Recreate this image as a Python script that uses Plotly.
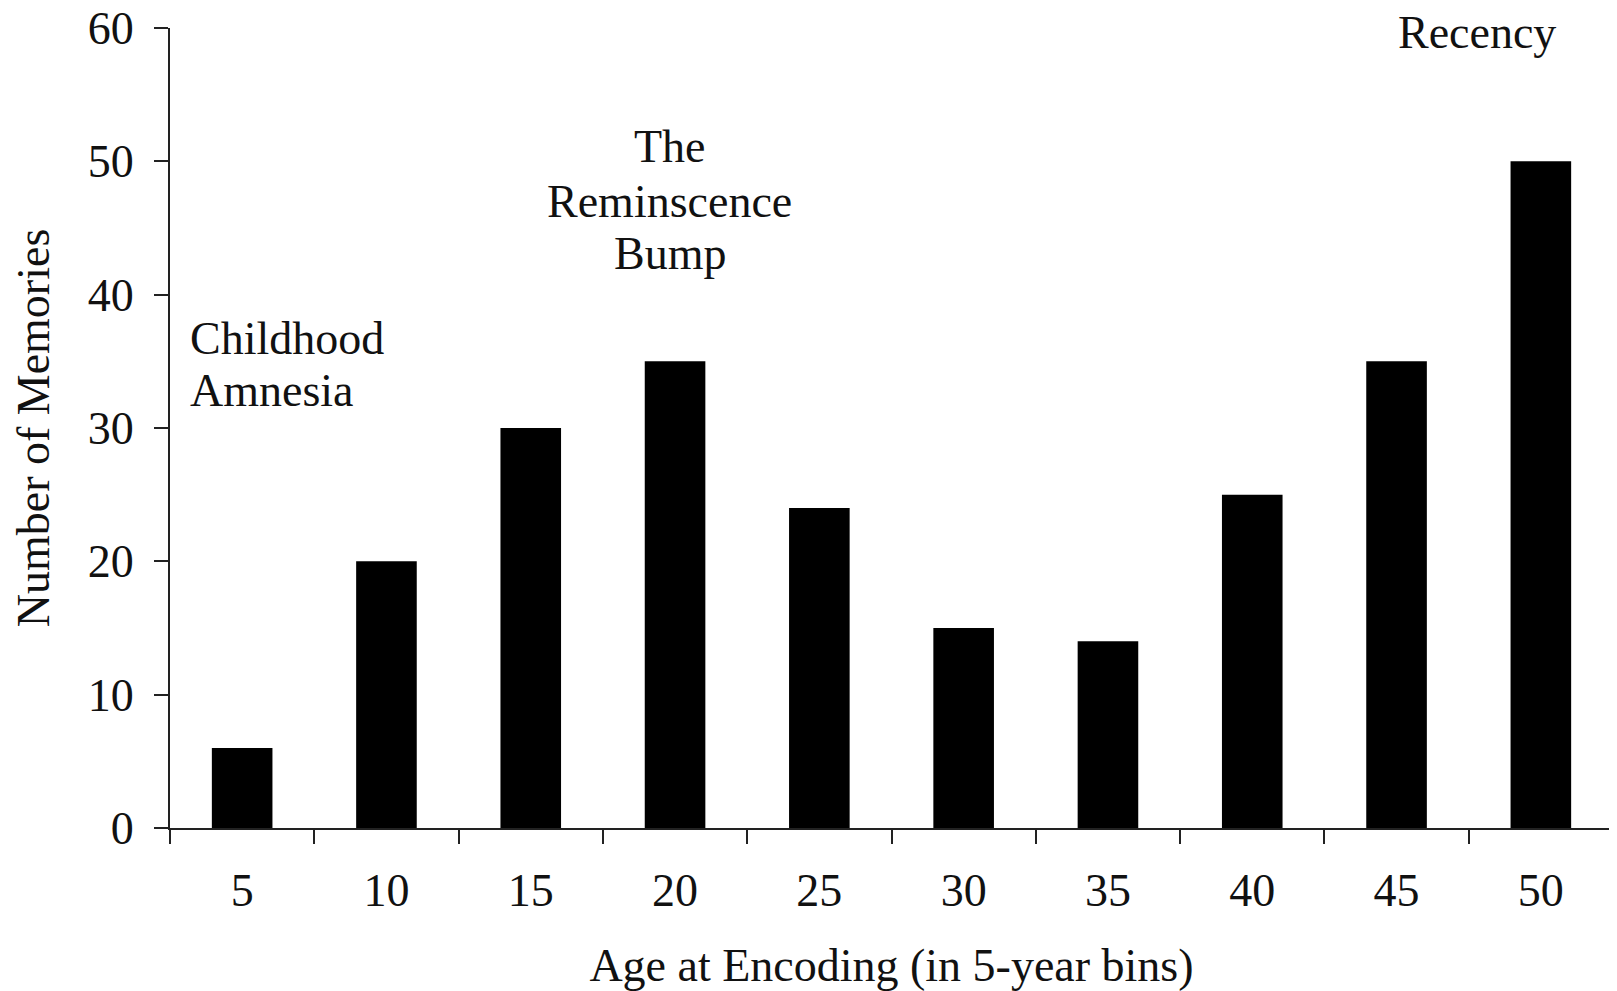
import plotly.graph_objects as go

ages = ["5", "10", "15", "20", "25", "30", "35", "40", "45", "50"]
memories = [6, 20, 30, 35, 24, 15, 14, 25, 35, 50]
y_ticks = [0, 10, 20, 30, 40, 50, 60]

FONT = "Liberation Serif, Times New Roman, serif"
COL = "#111111"
FS = 46

fig = go.Figure(go.Bar(x=ages, y=memories, marker=dict(color="black", line=dict(width=0))))

fig.update_layout(
    width=1617, height=991,
    margin=dict(l=162, r=12, t=20, b=171, autoexpand=False),
    paper_bgcolor="white", plot_bgcolor="white",
    bargap=0.58, showlegend=False,
    font=dict(family=FONT, size=FS, color=COL),
)
fig.update_xaxes(
    type="category", tickson="boundaries", ticks="outside", ticklen=14, tickwidth=2,
    tickcolor="#222", showline=True, linecolor="#222", linewidth=2, showgrid=False,
    tickfont=dict(size=FS), ticklabelstandoff=21, automargin=False,
    title=dict(text="Age at Encoding (in 5-year bins)", font=dict(size=FS), standoff=34),
)
fig.update_yaxes(
    range=[0, 60], tickvals=y_ticks, ticks="outside", ticklen=14, tickwidth=2,
    tickcolor="#222", showline=True, linecolor="#222", linewidth=2, showgrid=False,
    zeroline=False, tickfont=dict(size=FS), ticklabelstandoff=11, automargin=False,
    ticklabeloverflow="allow",
    title=dict(text="Number of Memories", font=dict(size=FS), standoff=26),
)

def ann(text, x, y, xanchor):
    fig.add_annotation(text=text, x=x, y=y, xref="paper", yref="y", xanchor=xanchor,
                       yanchor="middle", showarrow=False, font=dict(family=FONT, size=FS, color=COL))

ann("Childhood", 0.0125, 36.75, "left")
ann("Amnesia", 0.0125, 32.85, "left")
ann("The", 0.3465, 51.08, "center")
ann("Reminscence", 0.3465, 47.0, "center")
ann("Bump", 0.3465, 43.1, "center")
ann("Recency", 0.906, 59.7, "center")

fig.write_html("out.html")
